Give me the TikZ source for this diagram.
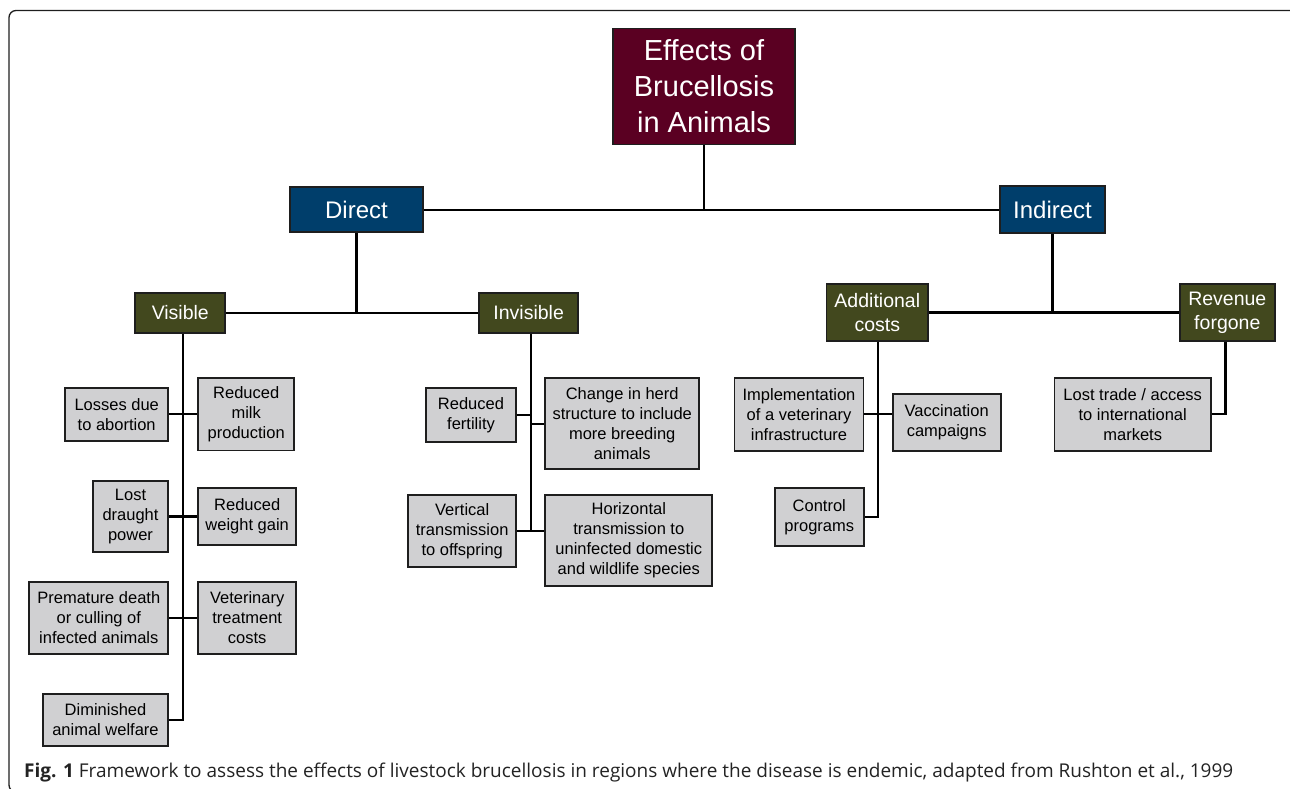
\documentclass[tikz,border=0pt]{standalone}
\usepackage{fontspec}
\setmainfont{Liberation Sans}
\newfontfamily\capfont{Open Sans}
\definecolor{maroon}{RGB}{90,0,34}
\definecolor{dblue}{RGB}{0,62,107}
\definecolor{olive}{RGB}{66,72,30}
\definecolor{lgray}{RGB}{208,208,210}
\definecolor{edge}{RGB}{30,30,30}
\definecolor{capgray}{RGB}{35,35,35}
\begin{document}
\begin{tikzpicture}[x=1pt,y=-1pt,
  box/.style={draw=edge,line width=1.8pt,inner sep=0pt,align=center,anchor=center},
  topbox/.style={box,fill=maroon,text=white,font=\fontsize{29}{36}\selectfont},
  lvlone/.style={box,fill=dblue,text=white,font=\fontsize{24}{28}\selectfont},
  lvltwo/.style={box,fill=olive,text=white,font=\fontsize{19.5}{24}\selectfont},
  leaf/.style={box,fill=lgray,text=black,font=\fontsize{16.5}{20}\selectfont},
  conn/.style={draw=black,line width=2.1pt}]
\useasboundingbox (0,0) rectangle (1290,789);
\draw[line width=1.3pt,draw=edge,rounded corners=7pt] (9,10.5) rectangle (1298,792);
% top
\node[topbox,minimum width=182pt,minimum height=116pt] (eff) at (704,86.5) {Effects of\\Brucellosis\\in Animals};
\node[lvlone,minimum width=133pt,minimum height=45pt] (dir) at (356.5,209.7) {Direct};
\node[lvlone,minimum width=105pt,minimum height=47pt] (ind) at (1052.5,209.7) {Indirect};
\node[lvltwo,minimum width=90pt,minimum height=40pt] (vis) at (180.3,312.7) {Visible};
\node[lvltwo,minimum width=99pt,minimum height=40pt] (inv) at (528.7,312.7) {Invisible};
\node[lvltwo,minimum width=101.5pt,minimum height=57pt] (add) at (877.3,312.5) {Additional\\costs};
\node[lvltwo,minimum width=95.4pt,minimum height=57pt] (rev) at (1227.3,312.5) {Revenue\\forgone};
% leaves visible
\node[leaf,minimum width=103.3pt,minimum height=53.3pt] (loss) at (116.7,414.3) {Losses due\\to abortion};
\node[leaf,minimum width=95.7pt,minimum height=72.4pt] (milk) at (246.2,414.3) {Reduced\\milk\\production};
\node[leaf,minimum width=75.6pt,minimum height=71.6pt] (drau) at (130.5,516.5) {Lost\\draught\\power};
\node[leaf,minimum width=97.7pt,minimum height=57.4pt] (wgt) at (247.2,516.5) {Reduced\\weight gain};
\node[leaf,minimum width=139pt,minimum height=72.3pt] (prem) at (98.8,617.8) {Premature death\\or culling of\\infected animals};
\node[leaf,minimum width=97.7pt,minimum height=72.3pt] (vet) at (247.2,617.8) {Veterinary\\treatment\\costs};
\node[leaf,minimum width=125.6pt,minimum height=51.4pt] (dim) at (105.5,720) {Diminished\\animal welfare};
% leaves invisible
\node[leaf,minimum width=90pt,minimum height=54pt] (fert) at (471,415.3) {Reduced\\fertility};
\node[leaf,minimum width=153.7pt,minimum height=91pt] (herd) at (622.2,423.8) {Change in herd\\structure to include\\more breeding\\animals};
\node[leaf,minimum width=107.7pt,minimum height=71.7pt] (vert) at (462.2,530.8) {Vertical\\transmission\\to offspring};
\node[leaf,minimum width=167pt,minimum height=91pt] (horz) at (628.8,540.5) {Horizontal\\transmission to\\uninfected domestic\\and wildlife species};
% leaves additional
\node[leaf,minimum width=129.1pt,minimum height=72.7pt] (impl) at (799,414.3) {Implementation\\of a veterinary\\infrastructure};
\node[leaf,minimum width=108pt,minimum height=56.7pt] (vacc) at (946.7,422.3) {Vaccination\\campaigns};
\node[leaf,minimum width=88.6pt,minimum height=58pt] (ctrl) at (819.3,517) {Control\\programs};
% leaves revenue
\node[leaf,minimum width=156.5pt,minimum height=72.7pt] (lost) at (1132.7,414.3) {Lost trade / access\\to international\\markets};
% trunk coordinates
\coordinate (vt) at ([xshift=3pt]vis.south);
\coordinate (it) at ([xshift=2pt]inv.south);
\coordinate (at) at ([xshift=0.7pt]add.south);
\coordinate (rt) at ([xshift=-1.8pt]rev.south);
% connectors top
\draw[conn] (dir.east) -- (ind.west);
\draw[conn] (eff.south) -- (eff.south |- dir.east);
\draw[conn] (vis.east) -- (inv.west);
\draw[conn] (dir.south) -- (dir.south |- vis.east);
\draw[conn] (add.east) -- (rev.west);
\draw[conn] (ind.south) -- (ind.south |- add.east);
% visible
\draw[conn] (vt) -- (vt |- dim.east) -- (dim.east);
\draw[conn] (loss.east) -- (milk.west);
\draw[conn] (drau.east) -- (wgt.west);
\draw[conn] (prem.east) -- (vet.west);
% invisible
\draw[conn] (it) -- (it |- vert.east);
\draw[conn] (fert.east) -- (fert.east -| it);
\draw[conn] (herd.west) -- (herd.west -| it);
\draw[conn] (vert.east) -- (vert.east -| horz.west);
% additional
\draw[conn] (at) -- (at |- ctrl.east) -- (ctrl.east);
\draw[conn] (impl.east) -- (impl.east -| vacc.west);
% revenue
\draw[conn] (rt) -- (rt |- lost.east) -- (lost.east);
% caption
\node[anchor=base west,inner sep=0pt,text=capgray,font=\capfont\fontsize{19}{21}\selectfont] (cap) at (24,777) {\textbf{Fig. 1} Framework to assess the effects of livestock brucellosis in regions where the disease is endemic, adapted from Rushton et al., 1999};
\end{tikzpicture}
\end{document}
